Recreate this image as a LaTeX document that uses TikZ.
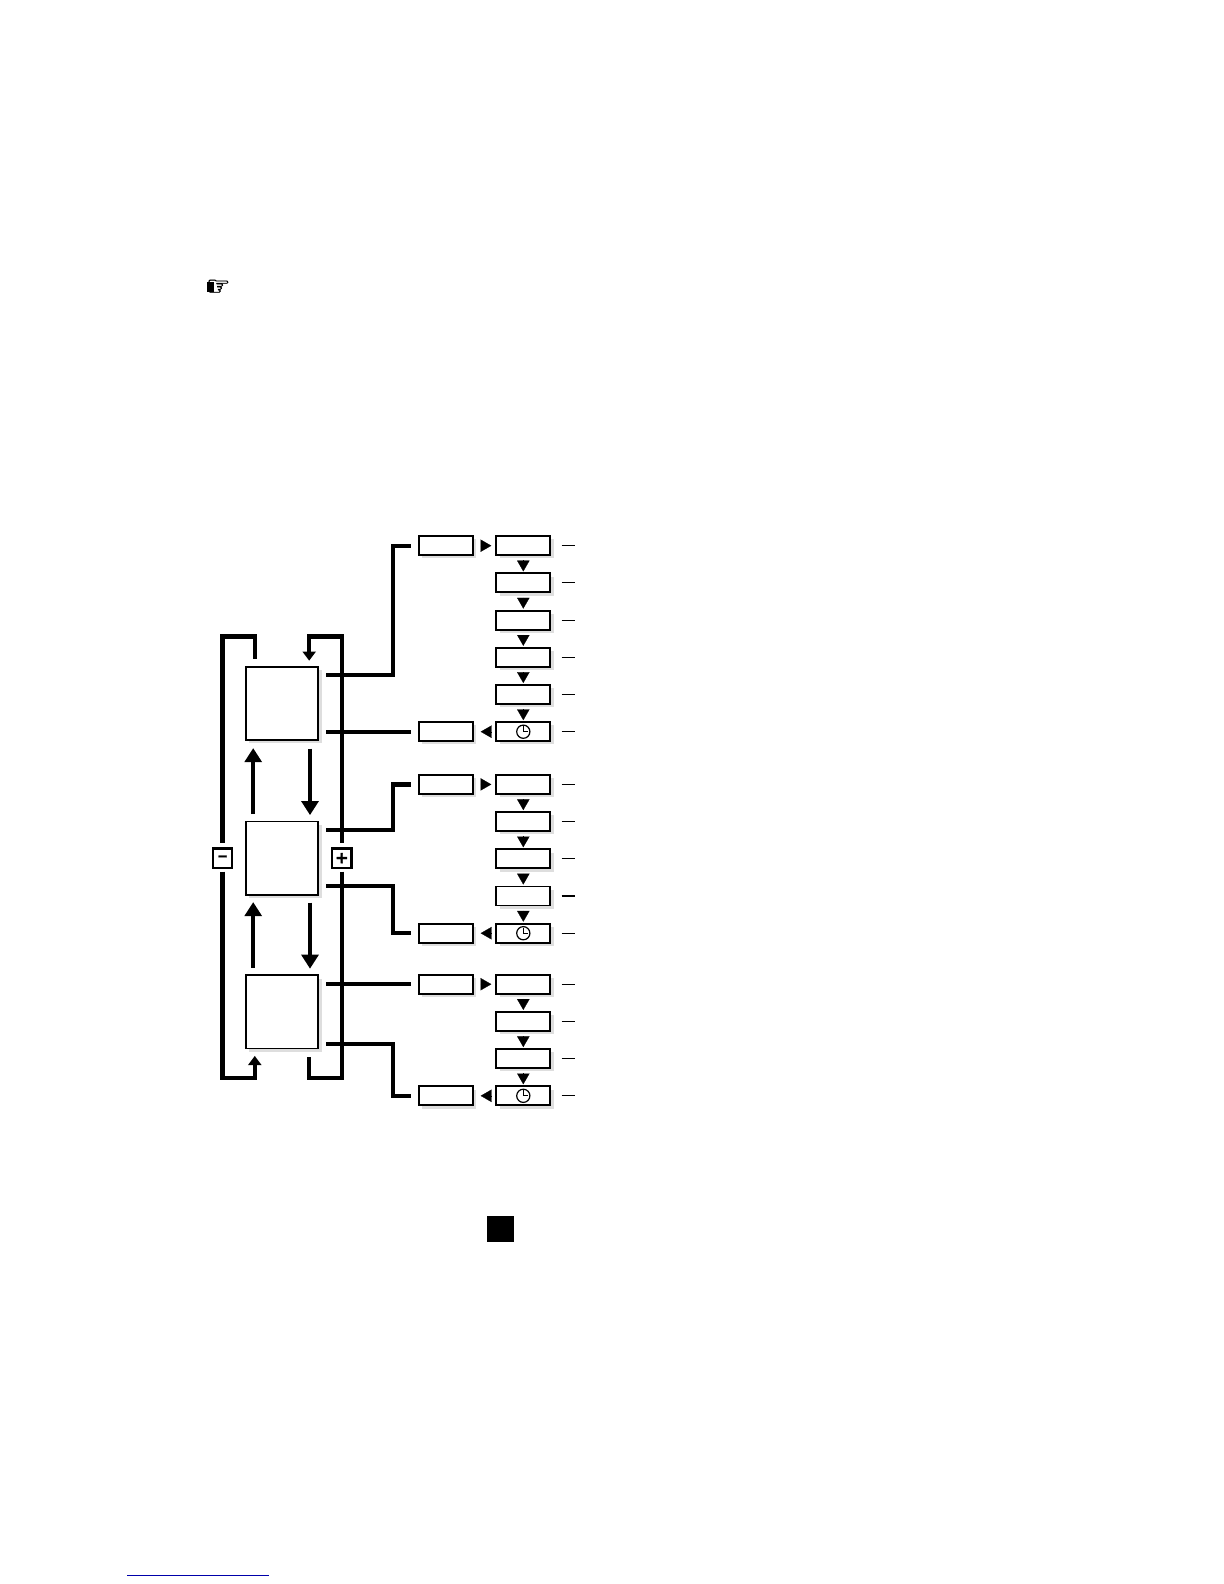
\documentclass[tikz,border=0pt]{standalone}
\usepackage{fontspec}
\setmainfont{DejaVu Sans}
\newfontfamily\signfont[FakeBold=2.5]{DejaVu Sans Bold}
\newfontfamily\handfont[FakeBold=1.5]{DejaVu Sans}
\usetikzlibrary{arrows.meta, positioning, shadows}

\newcommand{\clockface}[1]{
    \draw[clockline] (#1) circle (3.3pt);
    \draw[clockline] ([yshift=2.8pt]#1) -- (#1) -- ([xshift=2.2pt]#1);
}

\begin{document}
\begin{tikzpicture}[
        x=0.5pt,
        y=-0.5pt,
        node distance=9.1pt and 11.8pt,
        base/.style={
            rectangle,
            draw=black,
            fill=white,
            line width=0.95pt,
            inner sep=0pt,
            outer sep=0pt,
            drop shadow={shadow xshift=1.6pt, shadow yshift=-1.6pt, fill=black!13, opacity=1}
        },
        mainbox/.style={
            base,
            minimum width=36.4pt,
            minimum height=36.6pt
        },
        slot/.style={
            base,
            minimum width=27pt,
            minimum height=9.5pt
        },
        sign/.style={
            rectangle,
            draw=black,
            fill=white,
            line width=1.15pt,
            inner sep=0pt,
            outer sep=0pt,
            minimum width=9.6pt,
            minimum height=9.6pt,
            font=\signfont
        },
        link/.style={
            draw=black,
            line width=2.15pt
        },
        loopin/.style={
            link,
            -{Triangle[width=6.5pt,length=4.6pt]}
        },
        flow/.style={
            link,
            -{Triangle[width=8.4pt,length=7pt]}
        },
        thead/.style={
            black,
            line width=0.1pt,
            -{Triangle[width=6.2pt,length=5.4pt]}
        },
        tick/.style={
            black,
            line width=0.55pt
        },
        clockline/.style={
            black,
            line width=0.6pt
        }
    ]
    \useasboundingbox (0,0) rectangle (1224,1584);

    \node[font=\handfont\fontsize{13.5}{13.5}\selectfont, inner sep=0pt] (pointer) at (218.5,287.5) {☞};
    \fill[black] (207,282) rectangle (214,292);

    \node[mainbox] (mainA) at (282,703.3) {};
    \node[mainbox, below=40.8pt of mainA] (mainB) {};
    \node[mainbox, below=40.3pt of mainB] (mainC) {};

    \node[sign, left=6.7pt of mainB] (minus) {\fontsize{6.5}{6.5}\selectfont −};
    \node[sign, right=6.9pt of mainB] (plus) {\fontsize{8}{8}\selectfont +};

    \node[slot] (rowa1) at (523.3,545.7) {};
    \node[slot, below=of rowa1] (rowa2) {};
    \node[slot, below=of rowa2] (rowa3) {};
    \node[slot, below=of rowa3] (rowa4) {};
    \node[slot, below=of rowa4] (rowa5) {};
    \node[slot, below=of rowa5] (rowa6) {};
    \node[slot, below=16.85pt of rowa6] (rowb1) {};
    \node[slot, below=of rowb1] (rowb2) {};
    \node[slot, below=of rowb2] (rowb3) {};
    \node[slot, below=of rowb3] (rowb4) {};
    \node[slot, below=of rowb4] (rowb5) {};
    \node[slot, below=16pt of rowb5] (rowc1) {};
    \node[slot, below=of rowc1] (rowc2) {};
    \node[slot, below=of rowc2] (rowc3) {};
    \node[slot, below=of rowc3] (rowc4) {};

    \node[slot, left=of rowa1] (entA) {};
    \node[slot, left=of rowa6] (exitA) {};
    \node[slot, left=of rowb1] (entB) {};
    \node[slot, left=of rowb5] (exitB) {};
    \node[slot, left=of rowc1] (entC) {};
    \node[slot, left=of rowc4] (exitC) {};

    \clockface{rowa6.center}
    \clockface{rowb5.center}
    \clockface{rowc4.center}

    \node[fill=black, inner sep=0pt, minimum width=13.5pt, minimum height=13pt] (endsquare) at (500.5,1229) {};
    \draw[draw={rgb,255:red,0;green,0;blue,170}, line width=0.7pt] (127,1575.3) -- (269,1575.3);

    \draw[thead, shorten <=4pt, shorten >=2.5pt] (entA.east) -- (rowa1.west);
    \draw[thead, shorten <=4pt, shorten >=2.5pt] (entB.east) -- (rowb1.west);
    \draw[thead, shorten <=4pt, shorten >=2.5pt] (entC.east) -- (rowc1.west);
    \draw[thead, shorten <=2.4pt, shorten >=4pt] (rowa6.west) -- (exitA.east);
    \draw[thead, shorten <=2.4pt, shorten >=4pt] (rowb5.west) -- (exitB.east);
    \draw[thead, shorten <=2.4pt, shorten >=4pt] (rowc4.west) -- (exitC.east);

    \draw[thead, shorten <=2.6pt, shorten >=1pt] (rowa1.south) -- (rowa2.north);
    \draw[thead, shorten <=2.6pt, shorten >=1pt] (rowa2.south) -- (rowa3.north);
    \draw[thead, shorten <=2.6pt, shorten >=1pt] (rowa3.south) -- (rowa4.north);
    \draw[thead, shorten <=2.6pt, shorten >=1pt] (rowa4.south) -- (rowa5.north);
    \draw[thead, shorten <=2.6pt, shorten >=1pt] (rowa5.south) -- (rowa6.north);
    \draw[thead, shorten <=2.6pt, shorten >=1pt] (rowb1.south) -- (rowb2.north);
    \draw[thead, shorten <=2.6pt, shorten >=1pt] (rowb2.south) -- (rowb3.north);
    \draw[thead, shorten <=2.6pt, shorten >=1pt] (rowb3.south) -- (rowb4.north);
    \draw[thead, shorten <=2.6pt, shorten >=1pt] (rowb4.south) -- (rowb5.north);
    \draw[thead, shorten <=2.6pt, shorten >=1pt] (rowc1.south) -- (rowc2.north);
    \draw[thead, shorten <=2.6pt, shorten >=1pt] (rowc2.south) -- (rowc3.north);
    \draw[thead, shorten <=2.6pt, shorten >=1pt] (rowc3.south) -- (rowc4.north);

    \draw[tick] ([xshift=5.7pt]rowa1.east) -- ++(13.3,0);
    \draw[tick] ([xshift=5.7pt]rowa2.east) -- ++(13.3,0);
    \draw[tick] ([xshift=5.7pt]rowa3.east) -- ++(13.3,0);
    \draw[tick] ([xshift=5.7pt]rowa4.east) -- ++(13.3,0);
    \draw[tick] ([xshift=5.7pt]rowa5.east) -- ++(13.3,0);
    \draw[tick] ([xshift=5.7pt]rowa6.east) -- ++(13.3,0);
    \draw[tick] ([xshift=5.7pt]rowb1.east) -- ++(13.3,0);
    \draw[tick] ([xshift=5.7pt]rowb2.east) -- ++(13.3,0);
    \draw[tick] ([xshift=5.7pt]rowb3.east) -- ++(13.3,0);
    \draw[tick] ([xshift=5.7pt]rowb4.east) -- ++(13.3,0);
    \draw[tick] ([xshift=5.7pt]rowb5.east) -- ++(13.3,0);
    \draw[tick] ([xshift=5.7pt]rowc1.east) -- ++(13.3,0);
    \draw[tick] ([xshift=5.7pt]rowc2.east) -- ++(13.3,0);
    \draw[tick] ([xshift=5.7pt]rowc3.east) -- ++(13.3,0);
    \draw[tick] ([xshift=5.7pt]rowc4.east) -- ++(13.3,0);

    \draw[link, shorten <=4pt, shorten >=3.85pt] ([yshift=14pt]mainA.east) -- ++(74.4,0) |- (entA.west);
    \draw[link, shorten <=4pt, shorten >=3.85pt] (exitA.west -| mainA.east) -- (exitA.west);
    \draw[link, shorten <=4pt, shorten >=3.85pt] ([yshift=14pt]mainB.east) -- ++(74.4,0) |- (entB.west);
    \draw[link, shorten <=4pt, shorten >=3.85pt] ([yshift=-14pt]mainB.east) -- ++(74.4,0) |- (exitB.west);
    \draw[link, shorten <=4pt, shorten >=3.85pt] (entC.west -| mainC.east) -- (entC.west);
    \draw[link, shorten <=4pt, shorten >=3.85pt] ([yshift=-16.2pt]mainC.east) -- ++(74.4,0) |- (exitC.west);

    \draw[flow, shorten <=3.7pt, shorten >=4.1pt] ([xshift=-14.4pt]mainB.north) -- ([xshift=-14.4pt]mainA.south);
    \draw[flow, shorten <=4.3pt, shorten >=3.2pt] ([xshift=14pt]mainA.south) -- ([xshift=14pt]mainB.north);
    \draw[flow, shorten <=3.7pt, shorten >=3.7pt] ([xshift=-14.4pt]mainC.north) -- ([xshift=-14.4pt]mainB.south);
    \draw[flow, shorten <=3.9pt, shorten >=3.3pt] ([xshift=14pt]mainB.south) -- ([xshift=14pt]mainC.north);

    \draw[link, shorten <=3pt, shorten >=3.8pt] (minus.north) -- ++(0,-212) -| ([xshift=-13.6pt]mainA.north);
    \draw[loopin, shorten <=3pt, shorten >=3pt] (plus.north) -- ++(0,-212) -| ([xshift=13.6pt]mainA.north);
    \draw[loopin, shorten <=2pt, shorten >=3.7pt] (minus.south) -- ++(0,210.6) -| ([xshift=-13.6pt]mainC.south);
    \draw[link, shorten <=2pt, shorten >=4pt] (plus.south) -- ++(0,210.6) -| ([xshift=13.6pt]mainC.south);
\end{tikzpicture}
\end{document}
